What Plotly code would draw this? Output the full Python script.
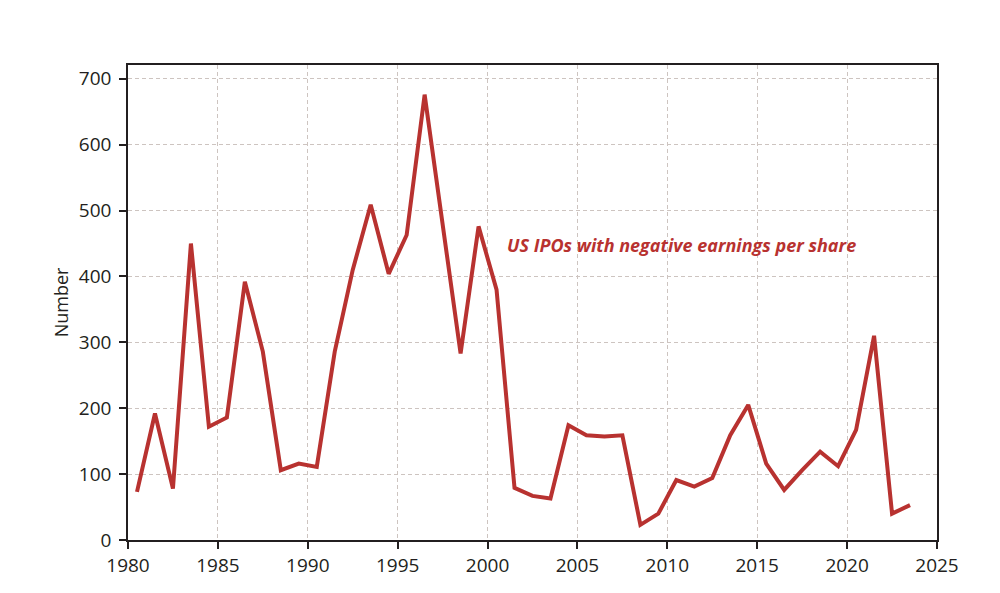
import plotly.graph_objects as go

# year midpoints (data plotted at mid-year)
years = [y + 0.5 for y in range(1980, 2024)]
ipos_neg_eps = [73, 192, 78, 450, 172, 186, 392, 286, 106, 116,
                111, 286, 410, 509, 404, 463, 676, 480, 283, 476,
                380, 79, 67, 63, 174, 159, 157, 159, 23, 40,
                91, 81, 94, 159, 205, 116, 76, 106, 134, 112,
                167, 310, 40, 53]

x_ticks = [1980, 1985, 1990, 1995, 2000, 2005, 2010, 2015, 2020, 2025]
y_ticks = [0, 100, 200, 300, 400, 500, 600, 700]

red = "#b83230"
ink = "#231f20"
grid = "#cdc4c0"
font_family = "Open Sans, sans-serif"

fig = go.Figure()
fig.add_trace(go.Scatter(
    x=years,
    y=ipos_neg_eps,
    mode="lines",
    line=dict(color=red, width=4),
    showlegend=False,
    hoverinfo="x+y",
))

axis_common = dict(
    showline=True, linecolor=ink, linewidth=1.5, mirror=True,
    ticks="outside", ticklen=7, tickwidth=1.5, tickcolor=ink,
    showgrid=True, gridcolor=grid, griddash="4px,3px", gridwidth=1,
    zeroline=False,
    tickfont=dict(family=font_family, size=19, color=ink),
)

fig.update_xaxes(range=[1980, 2025], tickvals=x_ticks, **axis_common)
fig.update_yaxes(range=[0, 721], tickvals=y_ticks, ticklabelstandoff=4,
                 title=dict(text="Number", standoff=6,
                            font=dict(family=font_family, size=18, color=ink)),
                 **axis_common)

fig.add_annotation(
    x=2000.95, y=448, xref="x", yref="y",
    text="<b><i>US IPOs with negative earnings per share</i></b>",
    showarrow=False, xanchor="left", yanchor="middle",
    font=dict(family=font_family, size=18, color=red),
)

# page body adds an 8px offset, margins compensate for it
fig.update_layout(
    width=1000, height=593,
    margin=dict(l=120, r=71, t=57, b=61),
    plot_bgcolor="white", paper_bgcolor="white",
)

fig.write_html("out.html")
